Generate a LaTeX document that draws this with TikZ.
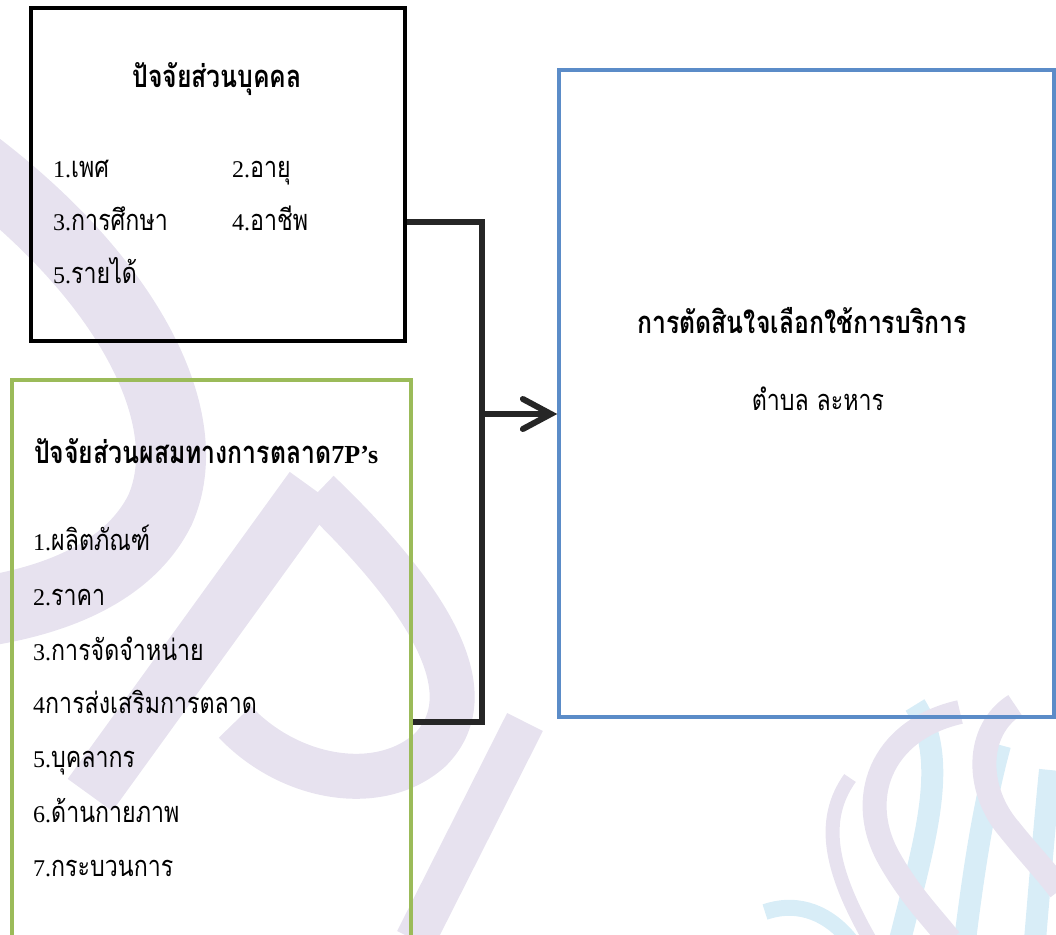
\documentclass[tikz,border=0pt]{standalone}
\usepackage{fontspec}
\setmainfont{Liberation Serif}
\newfontfamily\thai[Script=Thai,FakeStretch=0.8]{Loma}
\usetikzlibrary{arrows.meta}
\definecolor{wmpurple}{RGB}{231,226,239}
\definecolor{wmcyan}{RGB}{216,237,247}
\definecolor{boxgreen}{RGB}{155,187,89}
\definecolor{boxblue}{RGB}{91,140,200}
\definecolor{connc}{RGB}{38,38,38}
\newcommand\tx[2]{{\fontsize{24}{28}\selectfont #1}{\thai #2}}
\tikzset{
  wmp/.style={draw=wmpurple, line cap=butt},
  wmc/.style={draw=wmcyan, line cap=butt},
  boxk/.style={draw=black, line width=4pt, minimum width=374pt, minimum height=333pt, inner sep=0pt},
  boxg/.style={draw=boxgreen, line width=3.5pt, minimum width=399pt, minimum height=580pt, inner sep=0pt},
  boxb/.style={draw=boxblue, line width=3.5pt, minimum width=495pt, minimum height=647pt, inner sep=0pt},
  lbl/.style={inner sep=0pt, font=\fontsize{29}{32}\selectfont, anchor=base west},
  ttl/.style={inner sep=0pt, font=\fontsize{31}{34}\selectfont\bfseries, anchor=base},
  conn/.style={draw=connc, line width=6pt, line join=miter},
}
\begin{document}
\begin{tikzpicture}[x=1pt,y=-1pt]
\useasboundingbox (0,0) rectangle (1056,934);
% watermark
\draw[wmp, line width=70pt] (-30,160) .. controls (130,280) and (200,420) .. (160,510) .. controls (130,570) and (60,600) .. (-20,612);
\draw[wmp, line width=55pt] (312,488) -- (90,795);
\draw[wmp, line width=45pt] (318,492) .. controls (420,590) and (490,690) .. (430,750) .. controls (380,795) and (290,780) .. (235,722);
\draw[wmp, line width=40pt] (525,722) -- (415,940);
\draw[wmc, line width=22pt] (915,705) .. controls (950,760) and (925,840) .. (900,940);
\draw[wmc, line width=22pt] (1000,745) .. controls (985,800) and (975,860) .. (965,940);
\draw[wmc, line width=22pt] (1050,770) .. controls (1045,820) and (1040,880) .. (1035,940);
\draw[wmc, line width=16pt] (765,912) .. controls (800,900) and (830,915) .. (850,940);
\draw[wmp, line width=24pt] (960,712) .. controls (880,730) and (855,800) .. (890,860) .. controls (910,895) and (930,915) .. (950,940);
\draw[wmp, line width=24pt] (1015,705) .. controls (975,730) and (975,790) .. (1010,830) .. controls (1030,855) and (1045,870) .. (1060,890);
\draw[wmp, line width=14pt] (850,778) .. controls (820,820) and (830,870) .. (870,940);
% boxes
\node[boxk] (pbox) at (218,174.5) {};
\node[boxg] (gbox) at (211.5,670) {};
\node[boxb] (bbox) at (806.5,393.5) {};
% black box texts
\node[ttl] (ptitle) at (217,87) {\thai ปัจจัยส่วนบุคคล};
\node[lbl] (p1) at (53,177) {\tx{1.}{เพศ}};
\node[lbl] (p2) at (232,177) {\tx{2.}{อายุ}};
\node[lbl] (p3) at (53,230) {\tx{3.}{การศึกษา}};
\node[lbl] (p4) at (232,230) {\tx{4.}{อาชีพ}};
\node[lbl] (p5) at (53,283) {\tx{5.}{รายได้}};
% green box texts
\node[lbl, font=\fontsize{31}{34}\selectfont\bfseries] (gtitle) at (34,463) {{\thai ปัจจัยส่วนผสมทางการตลาด}{\fontsize{26}{30}\selectfont 7P’s}};
\node[lbl] (g1) at (33,550) {\tx{1.}{ผลิตภัณฑ์}};
\node[lbl] (g2) at (33,605) {\tx{2.}{ราคา}};
\node[lbl] (g3) at (33,660) {\tx{3.}{การจัดจำหน่าย}};
\node[lbl] (g4) at (33,713) {\tx{4}{การส่งเสริมการตลาด}};
\node[lbl] (g5) at (33,767) {\tx{5.}{บุคลากร}};
\node[lbl] (g6) at (33,822) {\tx{6.}{ด้านกายภาพ}};
\node[lbl] (g7) at (33,876) {\tx{7.}{กระบวนการ}};
% blue box texts
\node[ttl] (btitle) at (802,333) {\thai การตัดสินใจเลือกใช้การบริการ};
\node[ttl, font=\fontsize{29}{32}\selectfont] (bsub) at (818,410) {\thai ตำบล ละหาร};
% connectors
\coordinate (j) at (482,414);
\draw[conn] (pbox.east |- 0,222) -| (j) |- (gbox.east |- 0,722);
\draw[conn, -{Straight Barb[length=28pt,width=30pt,line cap=round]}] (j) -- (bbox.west |- j);
\end{tikzpicture}
\end{document}
